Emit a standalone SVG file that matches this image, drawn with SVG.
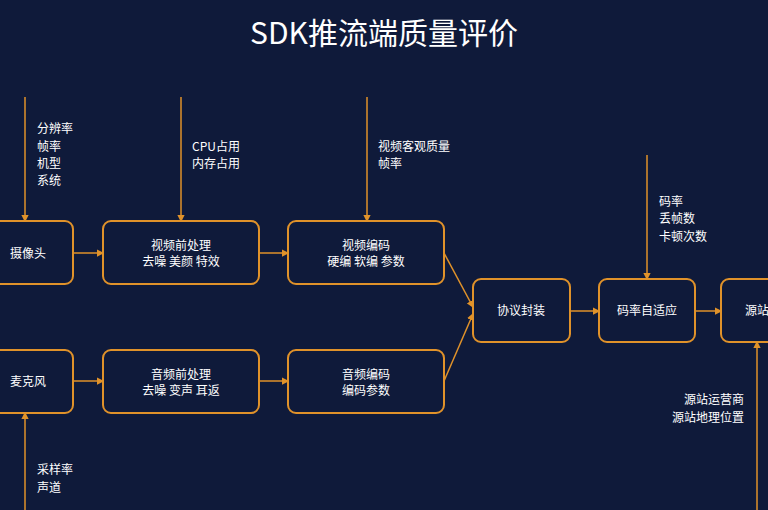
<svg xmlns="http://www.w3.org/2000/svg" width="768" height="510" viewBox="0 0 768 510">
<defs>
<marker id="a" viewBox="0 0 6 6" refX="5" refY="3" markerWidth="5" markerHeight="5" orient="auto"><path d="M0,0L6,3L0,6z" fill="#e0922a"/></marker>
<style>
.n rect{fill:#0f1a3a;stroke:#e0922a;stroke-width:2}
.n text,.l{fill:#fff;font-family:"Noto Sans CJK SC","Liberation Sans",sans-serif;font-size:12px}
.n text{text-anchor:middle}
#c path{stroke:#e0922a;stroke-width:1.5;fill:none;marker-end:url(#a)}
</style>
</defs>
<rect width="768" height="510" fill="#0f1a3a"/>
<text x="384" y="44" text-anchor="middle" fill="#fff" font-family="Noto Sans CJK SC,Liberation Sans,sans-serif" font-size="30">SDK推流端质量评价</text>
<g id="c">
<path d="M25,97V221"/><path d="M181,97V221"/><path d="M367,97V221"/><path d="M647,155V279"/>
<path d="M25,510V413"/><path d="M757,510V342"/>
<path d="M73,253H103"/><path d="M259,253H288"/><path d="M73,381H103"/><path d="M259,381H288"/>
<path d="M444,253L473,307"/><path d="M444,381L473,314"/>
<path d="M570,311H599"/><path d="M695,311H721"/>
</g>
<g id="n1" class="n"><rect x="-10" y="221" width="83" height="63" rx="8"/><text x="28" y="258">摄像头</text></g>
<g id="n2" class="n"><rect x="103" y="221" width="156" height="63" rx="8"/><text x="181" y="250">视频前处理</text><text x="181" y="266">去噪 美颜 特效</text></g>
<g id="n3" class="n"><rect x="288" y="221" width="156" height="63" rx="8"/><text x="366" y="250">视频编码</text><text x="366" y="266">硬编 软编 参数</text></g>
<g id="n4" class="n"><rect x="-10" y="350" width="83" height="63" rx="8"/><text x="28" y="386">麦克风</text></g>
<g id="n5" class="n"><rect x="103" y="350" width="156" height="63" rx="8"/><text x="181" y="379">音频前处理</text><text x="181" y="395">去噪 变声 耳返</text></g>
<g id="n6" class="n"><rect x="288" y="350" width="156" height="63" rx="8"/><text x="366" y="379">音频编码</text><text x="366" y="395">编码参数</text></g>
<g id="n7" class="n"><rect x="473" y="279" width="97" height="63" rx="8"/><text x="521" y="315">协议封装</text></g>
<g id="n8" class="n"><rect x="599" y="279" width="96" height="63" rx="8"/><text x="647" y="315">码率自适应</text></g>
<g id="n9" class="n"><rect x="721" y="279" width="60" height="63" rx="8"/><text x="757" y="315">源站</text></g>
<g class="l">
<text x="37" y="133">分辨率</text><text x="37" y="151">帧率</text><text x="37" y="168">机型</text><text x="37" y="185">系统</text>
<text x="192" y="151">CPU占用</text><text x="192" y="168">内存占用</text>
<text x="378" y="151">视频客观质量</text><text x="378" y="168">帧率</text>
<text x="659" y="206">码率</text><text x="659" y="223">丢帧数</text><text x="659" y="241">卡顿次数</text>
<text x="744" y="404" text-anchor="end">源站运营商</text><text x="744" y="422" text-anchor="end">源站地理位置</text>
<text x="37" y="474">采样率</text><text x="37" y="492">声道</text>
</g>
</svg>
